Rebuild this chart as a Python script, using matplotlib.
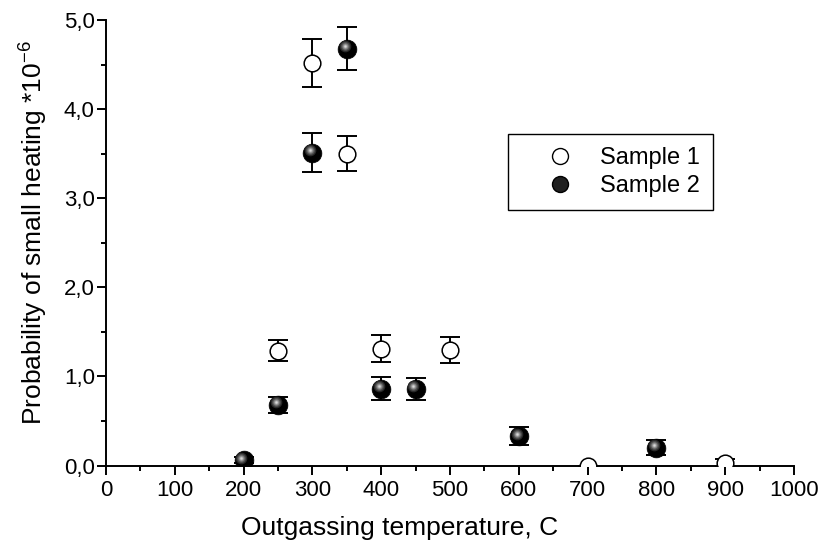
import matplotlib.pyplot as plt
from matplotlib.lines import Line2D
from matplotlib.ticker import MultipleLocator, FuncFormatter
from matplotlib.transforms import offset_copy

plt.rcParams['font.family'] = ['Liberation Sans', 'DejaVu Sans']
plt.rcParams['mathtext.default'] = 'regular'

# Sample 1 (open circles)
temp1 = [250, 300, 350, 400, 500, 700, 900]
prob1 = [1.29, 4.52, 3.50, 1.31, 1.30, 0.0, 0.03]
err1 = [0.12, 0.27, 0.20, 0.15, 0.145, 0.0, 0.045]

# Sample 2 (filled spheres)
temp2 = [200, 250, 300, 350, 400, 450, 600, 800]
prob2 = [0.06, 0.68, 3.51, 4.68, 0.86, 0.86, 0.33, 0.20]
err2 = [0.035, 0.09, 0.22, 0.24, 0.13, 0.125, 0.10, 0.085]

fig = plt.figure(figsize=(8.24, 5.48), dpi=100)
ax = fig.add_axes([0.1286, 0.1505, 0.835, 0.813])

ebkw = dict(fmt='none', ecolor='black', elinewidth=1.4, capsize=7.2, capthick=1.4, zorder=2)
ax.errorbar(temp1, prob1, yerr=err1, **ebkw)
ax.errorbar(temp2, prob2, yerr=err2, **ebkw)

ax.plot(temp1, prob1, 'o', ms=12, mfc='white', mec='black', mew=1.1, zorder=3)


def sphere(ax, x, y, ms, zorder=4):
    # black ball with a soft grey highlight towards the upper left
    ax.plot(x, y, 'o', ms=ms, mfc='black', mec='black', mew=0.5, zorder=zorder)
    shift = offset_copy(ax.transData, fig=ax.figure, x=-1.6, y=1.8, units='points')
    for frac, col in [(0.62, '#2a2a2a'), (0.48, '#4e4e4e'), (0.35, '#7a7a7a'),
                      (0.23, '#a8a8a8'), (0.12, '#d8d8d8')]:
        ax.plot(x, y, 'o', ms=ms * frac, mfc=col, mec='none', zorder=zorder,
                transform=shift)


sphere(ax, temp2, prob2, 13.5)

ax.set_xlim(0, 1000)
ax.set_ylim(0, 5.0)
ax.xaxis.set_major_locator(MultipleLocator(100))
ax.xaxis.set_minor_locator(MultipleLocator(50))
ax.yaxis.set_major_locator(MultipleLocator(1.0))
ax.yaxis.set_minor_locator(MultipleLocator(0.5))
ax.yaxis.set_major_formatter(FuncFormatter(lambda v, p: f'{v:.1f}'.replace('.', ',')))

for side in ['top', 'right']:
    ax.spines[side].set_visible(False)
for side in ['left', 'bottom']:
    ax.spines[side].set_linewidth(1.4)

ax.tick_params(which='major', direction='out', length=6.5, width=1.4, labelsize=16)
ax.tick_params(axis='y', which='major', pad=1.5)
ax.tick_params(axis='x', which='major', pad=4)
ax.tick_params(which='minor', direction='out', length=3.5, width=1.4)

ax.set_xlabel('Outgassing temperature, C', fontsize=19, labelpad=11, x=0.427)
ax.set_ylabel('Probability of small heating *10$^{-6}$', fontsize=19, labelpad=10, y=0.522)

handles = [
    Line2D([], [], ls='none', marker='o', ms=11.5, mfc='white', mec='black', mew=1.0),
    Line2D([], [], ls='none', marker='o', ms=11.5, mfc='#202020', mec='black'),
]
leg = ax.legend(handles, ['Sample 1', 'Sample 2'], loc='upper left',
                bbox_to_anchor=(0.584, 0.744), fontsize=17, frameon=True,
                fancybox=False, edgecolor='black', framealpha=1,
                borderpad=0.55, handletextpad=0.05, labelspacing=0.25,
                borderaxespad=0, handlelength=3.3)
leg.get_frame().set_linewidth(1.0)

fig.savefig('out.png', dpi=100)
